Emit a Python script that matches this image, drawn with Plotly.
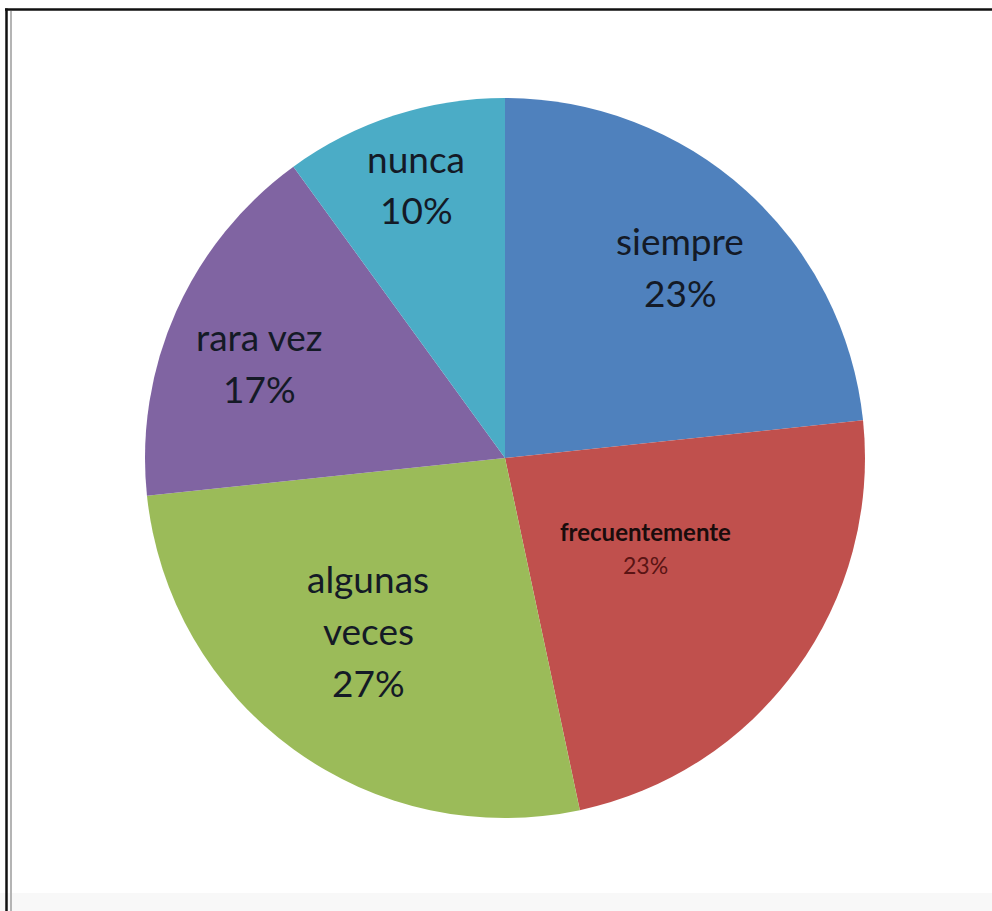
import plotly.graph_objects as go

# Survey answers (counts) and slice colours
categories = ["siempre", "frecuentemente", "algunas veces", "rara vez", "nunca"]
counts = [7, 7, 8, 5, 3]
colors = ["#4F81BD", "#C0504D", "#9BBB59", "#8064A2", "#4BACC6"]

W, H = 992, 911
total = sum(counts)
pcts = [f"{round(100 * c / total)}%" for c in counts]

# Pie centre / radius in pixels
cx, cy, r = 505, 458, 360

fig = go.Figure(go.Pie(
    labels=categories,
    values=counts,
    sort=False,
    direction="clockwise",
    rotation=0,
    marker=dict(colors=colors, line=dict(width=0)),
    textinfo="none",
    hoverinfo="label+percent",
    showlegend=False,
    domain=dict(x=[(cx - r) / W, (cx + r) / W],
                y=[1 - (cy + r) / H, 1 - (cy - r) / H]),
))

FONT = "Lato, Carlito, sans-serif"

# Label layout: first-line centre (px), line spacing, font size
label_layout = {
    "siempre":        dict(pos=(680, 241), lines=["siempre"], step=51, size=37),
    "nunca":          dict(pos=(416, 158), lines=["nunca"], step=51, size=37),
    "rara vez":       dict(pos=(259, 337), lines=["rara vez"], step=51, size=37),
    "algunas veces":  dict(pos=(368, 578), lines=["algunas", "veces"], step=52, size=37),
}

annotations = []
for cat, pct in zip(categories, pcts):
    if cat in label_layout:
        spec = label_layout[cat]
        x0, y0 = spec["pos"]
        for i, line in enumerate(spec["lines"] + [pct]):
            annotations.append(dict(
                x=x0 / W, y=1 - (y0 + i * spec["step"]) / H,
                xref="paper", yref="paper", showarrow=False,
                text=line, xanchor="center", yanchor="middle",
                font=dict(family=FONT, size=spec["size"], color="#141a26"),
            ))
    else:
        annotations.append(dict(
            x=645 / W, y=1 - 531 / H, xref="paper", yref="paper", showarrow=False,
            text=f"<b>{cat}</b>", xanchor="center", yanchor="middle",
            font=dict(family=FONT, size=24, color="#1a0c0c"),
        ))
        annotations.append(dict(
            x=645 / W, y=1 - 565 / H, xref="paper", yref="paper", showarrow=False,
            text=pct, xanchor="center", yanchor="middle",
            font=dict(family=FONT, size=23, color="#5a1414"),
        ))

shapes = [
    # faint grey strip along the bottom
    dict(type="rect", xref="paper", yref="paper", x0=0, x1=1, y0=0, y1=18 / H,
         fillcolor="#f8f8f8", line=dict(width=0), layer="below"),
    # frame: black top and left edges, grey inner left edge
    dict(type="line", xref="paper", yref="paper", x0=5 / W, x1=1, y0=1 - 9.5 / H, y1=1 - 9.5 / H,
         line=dict(color="#111111", width=2.5)),
    dict(type="line", xref="paper", yref="paper", x0=6.5 / W, x1=6.5 / W, y0=0, y1=1 - 8.5 / H,
         line=dict(color="#111111", width=2.5)),
    dict(type="line", xref="paper", yref="paper", x0=11 / W, x1=11 / W, y0=0, y1=1 - 11 / H,
         line=dict(color="#b4b4b4", width=2)),
]

fig.update_layout(
    width=W, height=H,
    margin=dict(l=0, r=0, t=0, b=0),
    paper_bgcolor="white",
    plot_bgcolor="white",
    annotations=annotations,
    shapes=shapes,
)

fig.write_html("out.html")
